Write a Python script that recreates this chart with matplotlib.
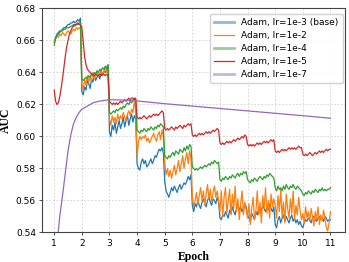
import numpy as np
import matplotlib
matplotlib.use("Agg")
import matplotlib.pyplot as plt
from matplotlib.lines import Line2D

# x positions: 20 samples per epoch from 1.0 to 11.0
epochs = np.round(np.arange(1.0, 11.0001, 0.05), 2)

blue = [
    0.659, 0.662, 0.664, 0.665, 0.666, 0.666, 0.667, 0.668, 0.668, 0.669, 0.670, 0.670, 0.671, 0.671, 0.672, 0.671, 0.672, 0.673, 0.672, 0.674,
    0.628, 0.626, 0.631, 0.629, 0.635, 0.633, 0.630, 0.636, 0.634, 0.638, 0.635, 0.637, 0.639, 0.636, 0.640, 0.638, 0.641, 0.640, 0.642, 0.644,
    0.603, 0.600, 0.607, 0.604, 0.609, 0.602, 0.606, 0.610, 0.605, 0.608, 0.612, 0.606, 0.610, 0.613, 0.607, 0.611, 0.614, 0.609, 0.613, 0.611,
    0.583, 0.580, 0.579, 0.584, 0.586, 0.583, 0.585, 0.581, 0.582, 0.584, 0.586, 0.583, 0.585, 0.588, 0.587, 0.590, 0.592, 0.591, 0.593, 0.590,
    0.572, 0.566, 0.564, 0.562, 0.565, 0.568, 0.566, 0.569, 0.567, 0.565, 0.568, 0.570, 0.567, 0.569, 0.571, 0.570, 0.572, 0.575, 0.573, 0.576,
    0.557, 0.553, 0.558, 0.556, 0.560, 0.557, 0.555, 0.559, 0.561, 0.558, 0.556, 0.560, 0.562, 0.559, 0.557, 0.561, 0.560, 0.558, 0.562, 0.559,
    0.549, 0.548, 0.551, 0.550, 0.553, 0.551, 0.549, 0.554, 0.552, 0.556, 0.553, 0.551, 0.555, 0.557, 0.554, 0.556, 0.553, 0.555, 0.558, 0.556,
    0.551, 0.549, 0.547, 0.552, 0.550, 0.548, 0.553, 0.551, 0.555, 0.552, 0.554, 0.557, 0.555, 0.553, 0.556, 0.554, 0.558, 0.555, 0.553, 0.556,
    0.545, 0.543, 0.548, 0.550, 0.546, 0.549, 0.551, 0.547, 0.550, 0.548, 0.546, 0.549, 0.551, 0.547, 0.549, 0.546, 0.548, 0.545, 0.547, 0.544,
    0.543, 0.546, 0.548, 0.547, 0.549, 0.548, 0.546, 0.549, 0.550, 0.548, 0.547, 0.549, 0.550, 0.548, 0.549, 0.547, 0.550, 0.549, 0.547, 0.548,
    0.548,
]

orange = [
    0.659, 0.661, 0.663, 0.662, 0.664, 0.663, 0.665, 0.664, 0.663, 0.665, 0.666, 0.665, 0.664, 0.666, 0.667, 0.666, 0.668, 0.667, 0.668, 0.667,
    0.633, 0.629, 0.636, 0.632, 0.638, 0.634, 0.637, 0.635, 0.640, 0.636, 0.638, 0.641, 0.637, 0.639, 0.642, 0.638, 0.641, 0.643, 0.640, 0.642,
    0.611, 0.607, 0.613, 0.609, 0.612, 0.608, 0.614, 0.610, 0.613, 0.611, 0.615, 0.612, 0.610, 0.614, 0.616, 0.613, 0.617, 0.615, 0.622, 0.616,
    0.587, 0.597, 0.600, 0.598, 0.600, 0.599, 0.601, 0.597, 0.599, 0.596, 0.598, 0.600, 0.602, 0.599, 0.597, 0.601, 0.603, 0.598, 0.604, 0.600,
    0.583, 0.576, 0.580, 0.575, 0.579, 0.574, 0.578, 0.582, 0.576, 0.580, 0.585, 0.578, 0.583, 0.588, 0.580, 0.586, 0.590, 0.583, 0.591, 0.586,
    0.562, 0.556, 0.560, 0.565, 0.558, 0.563, 0.568, 0.560, 0.566, 0.557, 0.564, 0.570, 0.561, 0.567, 0.559, 0.565, 0.569, 0.562, 0.566, 0.560,
    0.553, 0.566, 0.550, 0.562, 0.568, 0.552, 0.560, 0.567, 0.551, 0.564, 0.555, 0.569, 0.553, 0.561, 0.548, 0.558, 0.566, 0.551, 0.559, 0.554,
    0.549, 0.558, 0.545, 0.555, 0.562, 0.548, 0.553, 0.566, 0.551, 0.559, 0.546, 0.563, 0.555, 0.568, 0.552, 0.560, 0.549, 0.564, 0.556, 0.561,
    0.557, 0.549, 0.563, 0.553, 0.567, 0.550, 0.559, 0.546, 0.564, 0.555, 0.549, 0.561, 0.552, 0.566, 0.548, 0.557, 0.551, 0.562, 0.554, 0.548,
    0.552, 0.546, 0.556, 0.549, 0.553, 0.547, 0.555, 0.550, 0.544, 0.553, 0.548, 0.556, 0.545, 0.551, 0.547, 0.554, 0.549, 0.543, 0.541, 0.546,
    0.553,
]

green = [
    0.657, 0.661, 0.663, 0.664, 0.665, 0.666, 0.666, 0.667, 0.667, 0.668, 0.668, 0.668, 0.669, 0.669, 0.670, 0.669, 0.670, 0.670, 0.671, 0.671,
    0.636, 0.635, 0.636, 0.637, 0.636, 0.638, 0.637, 0.639, 0.638, 0.640, 0.639, 0.641, 0.640, 0.642, 0.641, 0.643, 0.642, 0.644, 0.643, 0.645,
    0.615, 0.614, 0.615, 0.616, 0.615, 0.617, 0.616, 0.617, 0.618, 0.617, 0.619, 0.618, 0.620, 0.621, 0.620, 0.622, 0.621, 0.623, 0.624, 0.623,
    0.604, 0.603, 0.602, 0.604, 0.603, 0.605, 0.604, 0.603, 0.605, 0.604, 0.606, 0.605, 0.604, 0.606, 0.605, 0.607, 0.606, 0.608, 0.607, 0.606,
    0.588, 0.587, 0.586, 0.588, 0.587, 0.589, 0.590, 0.588, 0.591, 0.590, 0.589, 0.592, 0.591, 0.590, 0.593, 0.591, 0.594, 0.592, 0.595, 0.594,
    0.581, 0.580, 0.579, 0.580, 0.579, 0.580, 0.581, 0.580, 0.581, 0.582, 0.581, 0.582, 0.583, 0.582, 0.584, 0.583, 0.585, 0.584, 0.583, 0.584,
    0.573, 0.572, 0.574, 0.573, 0.575, 0.574, 0.573, 0.575, 0.574, 0.576, 0.575, 0.574, 0.576, 0.577, 0.575, 0.577, 0.576, 0.578, 0.577, 0.578,
    0.573, 0.572, 0.571, 0.573, 0.572, 0.574, 0.573, 0.572, 0.574, 0.575, 0.574, 0.573, 0.575, 0.574, 0.576, 0.575, 0.577, 0.576, 0.575, 0.574,
    0.568, 0.566, 0.569, 0.567, 0.568, 0.566, 0.569, 0.567, 0.570, 0.568, 0.567, 0.569, 0.568, 0.570, 0.568, 0.567, 0.569, 0.568, 0.567, 0.566,
    0.564, 0.563, 0.565, 0.564, 0.566, 0.565, 0.564, 0.566, 0.565, 0.567, 0.566, 0.565, 0.567, 0.566, 0.568, 0.566, 0.567, 0.566, 0.567, 0.567,
    0.568,
]

red = [
    0.629, 0.622, 0.620, 0.621, 0.625, 0.630, 0.636, 0.643, 0.650, 0.656, 0.660, 0.664, 0.666, 0.668, 0.669, 0.670, 0.670, 0.671, 0.670, 0.670,
    0.668, 0.659, 0.650, 0.645, 0.642, 0.641, 0.640, 0.639, 0.639, 0.638, 0.639, 0.638, 0.638, 0.639, 0.638, 0.639, 0.639, 0.638, 0.639, 0.638,
    0.622, 0.621, 0.620, 0.621, 0.620, 0.621, 0.620, 0.621, 0.622, 0.621, 0.622, 0.623, 0.622, 0.623, 0.624, 0.623, 0.624, 0.624, 0.623, 0.624,
    0.612, 0.611, 0.612, 0.611, 0.612, 0.613, 0.612, 0.611, 0.612, 0.613, 0.612, 0.613, 0.614, 0.613, 0.614, 0.613, 0.614, 0.615, 0.616, 0.615,
    0.605, 0.604, 0.605, 0.604, 0.605, 0.606, 0.605, 0.604, 0.606, 0.605, 0.606, 0.607, 0.606, 0.605, 0.607, 0.606, 0.607, 0.608, 0.607, 0.608,
    0.601, 0.600, 0.601, 0.600, 0.601, 0.602, 0.601, 0.602, 0.601, 0.602, 0.603, 0.602, 0.603, 0.602, 0.603, 0.604, 0.603, 0.604, 0.605, 0.604,
    0.596, 0.595, 0.596, 0.595, 0.596, 0.597, 0.596, 0.597, 0.596, 0.597, 0.598, 0.597, 0.598, 0.599, 0.598, 0.599, 0.600, 0.599, 0.601, 0.600,
    0.595, 0.594, 0.595, 0.594, 0.595, 0.594, 0.595, 0.596, 0.595, 0.596, 0.595, 0.596, 0.597, 0.596, 0.597, 0.596, 0.597, 0.598, 0.597, 0.598,
    0.591, 0.590, 0.591, 0.590, 0.591, 0.592, 0.591, 0.592, 0.591, 0.592, 0.593, 0.592, 0.593, 0.592, 0.593, 0.592, 0.593, 0.594, 0.593, 0.593,
    0.589, 0.588, 0.589, 0.588, 0.589, 0.590, 0.589, 0.588, 0.589, 0.590, 0.589, 0.590, 0.591, 0.590, 0.591, 0.590, 0.591, 0.592, 0.591, 0.592,
    0.592,
]

purple_x = [1.00, 1.05, 1.10, 1.15, 1.20, 1.30, 1.40, 1.50, 1.60, 1.70, 1.80, 1.90, 2.00,
            2.20, 2.40, 2.60, 2.80, 3.00, 3.50, 4.00, 5.00, 6.00, 7.00, 8.00, 9.00, 10.00, 11.00]
purple = [0.480, 0.510, 0.528, 0.541, 0.550, 0.563, 0.577, 0.591, 0.601, 0.608, 0.612, 0.615, 0.617,
          0.619, 0.621, 0.622, 0.6225, 0.623, 0.6228, 0.6222, 0.6205, 0.619, 0.6175, 0.616, 0.6145, 0.613, 0.6114]

labels = ["Adam, lr=1e-3 (base)", "Adam, lr=1e-2", "Adam, lr=1e-4", "Adam, lr=1e-5", "Adam, lr=1e-7"]
colors = ["#1f77b4", "#ff7f0e", "#2ca02c", "#d62728", "#9467bd"]

fig = plt.figure(figsize=(3.49, 2.62), dpi=100)
ax = fig.add_axes([0.121, 0.1126, 0.867, 0.855])

ax.plot(epochs, blue, color=colors[0], lw=0.9)
ax.plot(epochs, orange, color=colors[1], lw=0.9)
ax.plot(epochs, green, color=colors[2], lw=0.9)
ax.plot(epochs, red, color=colors[3], lw=0.9)
ax.plot(purple_x, purple, color=colors[4], lw=0.9)

ax.set_xlim(0.566, 11.52)
ax.set_ylim(0.54, 0.68)
ax.set_xticks(range(1, 12))
ax.set_yticks([0.54, 0.56, 0.58, 0.60, 0.62, 0.64, 0.66, 0.68])
ax.yaxis.set_major_formatter(matplotlib.ticker.FormatStrFormatter('%.2f'))
ax.tick_params(labelsize=6.5, length=2.5, width=0.6, colors="#333333", labelcolor="black", pad=2)
ax.grid(True, linestyle=(0, (2.5, 2.5)), color="#c8c8c8", linewidth=0.5)
for s in ax.spines.values():
    s.set_color("#444444")
    s.set_linewidth(0.8)

ax.set_xlabel("Epoch", fontfamily="Liberation Serif", fontweight="bold", fontsize=8.5, labelpad=2)
ax.set_ylabel("AUC", fontfamily="Liberation Serif", fontweight="bold", fontsize=8.5, labelpad=3)

handles = [
    Line2D([], [], color=colors[0], lw=2, alpha=0.5),
    Line2D([], [], color=colors[1], lw=0.9),
    Line2D([], [], color=colors[2], lw=2, alpha=0.5),
    Line2D([], [], color=colors[3], lw=0.9),
    Line2D([], [], color=colors[4], lw=2, alpha=0.5),
]
ax.legend(handles, labels, loc="upper right", fontsize=6.5, frameon=True, fancybox=True,
          framealpha=0.9, edgecolor="#cccccc", handlelength=2.2, labelspacing=0.44,
          borderpad=0.45, handletextpad=0.8, borderaxespad=0,
          bbox_to_anchor=(0.993, 0.976))

fig.savefig("out.png", dpi=100)
